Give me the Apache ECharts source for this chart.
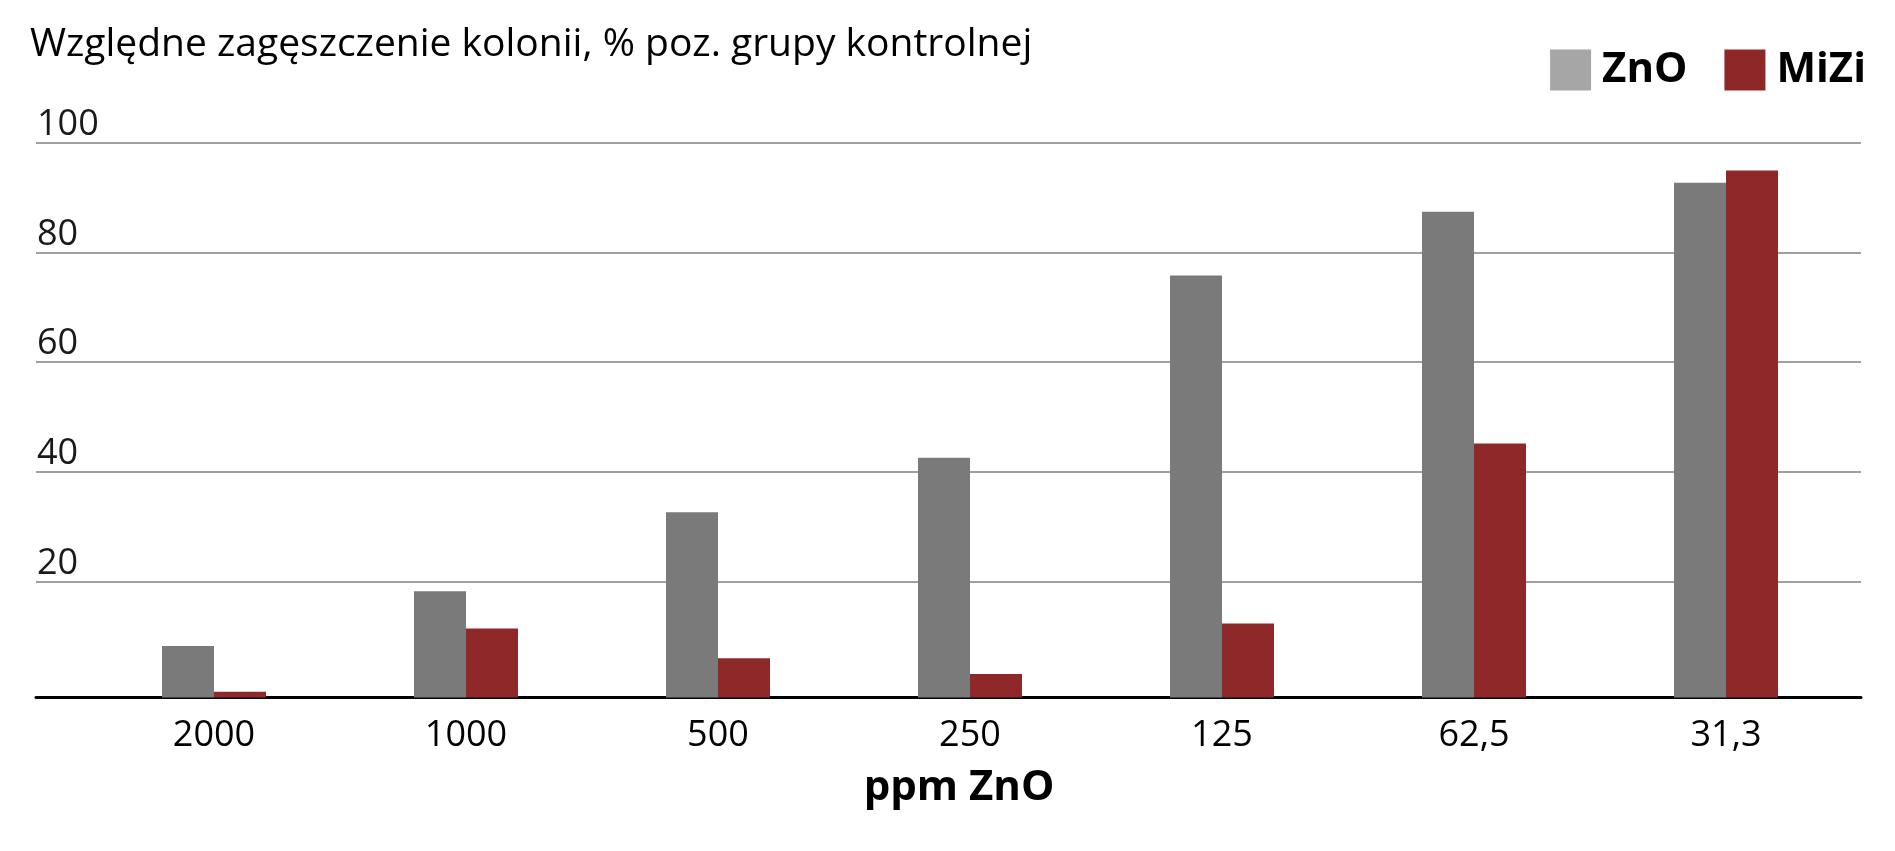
<!DOCTYPE html>
<html>
<head>
<meta charset="utf-8">
<script src="https://cdn.jsdelivr.net/npm/echarts@6/dist/echarts.min.js"></script>
<style>
  html, body { margin: 0; padding: 0; background: #fff; }
  #main { width: 1895px; height: 851px; }
</style>
</head>
<body>
<div id="main"></div>
<script>
var categories = ['2000', '1000', '500', '250', '125', '62,5', '31,3'];
var znoValues = [8.3, 18.3, 32.7, 42.6, 75.8, 87.4, 92.7];
var miziValues = [0, 11.5, 6.1, 3.2, 12.4, 45.2, 94.9];
var yTickValues = [20, 40, 60, 80, 100];
// the category axis crosses a little below 0 in the original
var yMin = -1.06;
var yMax = 100;

var font = 'Open Sans';
var myChart = echarts.init(document.getElementById('main'));

var option = {
	backgroundColor: '#fff',
	animation: false,
	title: {
		text: 'Względne zagęszczenie kolonii, % poz. grupy kontrolnej',
		left: 25,
		top: 20,
		textStyle: { fontFamily: font, fontSize: 39, fontWeight: 'normal', color: '#000' }
	},
	legend: {
		right: 24,
		top: 44,
		icon: 'rect',
		itemWidth: 41,
		itemHeight: 41,
		itemGap: 37,
		data: [
			{ name: 'ZnO', itemStyle: { color: '#a6a6a6' } },
			{ name: 'MiZi', itemStyle: { color: '#8e2727' } }
		],
		textStyle: { fontFamily: font, fontSize: 42, fontWeight: 'bold', color: '#000', padding: [18, 0, 0, 6] }
	},
	grid: [
		// gridlines, y labels and the axis line
		{ left: 36, right: 34, top: 142.6, bottom: 153.5 },
		// bars
		{ left: 88, right: 43, top: 142.6, bottom: 153.5 }
	],
	xAxis: [
		{
			gridIndex: 0,
			type: 'value',
			min: 0,
			max: 1,
			axisLine: { show: true, onZero: false, lineStyle: { color: '#000', width: 3 } },
			axisTick: { show: false },
			axisLabel: { show: false },
			splitLine: { show: false }
		},
		{
			gridIndex: 1,
			type: 'category',
			data: categories,
			axisLine: { show: false },
			axisTick: { show: false },
			axisLabel: { margin: 20, fontFamily: font, fontSize: 36, color: '#000' },
			name: 'ppm ZnO',
			nameLocation: 'middle',
			nameGap: 70,
			nameTextStyle: { fontFamily: font, fontSize: 42, fontWeight: 'bold', color: '#000', padding: [0, 22, 0, 0] }
		}
	],
	yAxis: [
		{
			gridIndex: 0,
			type: 'value',
			min: yMin,
			max: yMax,
			axisLine: { show: false },
			axisTick: { show: false, customValues: yTickValues },
			axisLabel: {
				customValues: yTickValues,
				inside: true,
				align: 'left',
				verticalAlign: 'bottom',
				margin: 1,
				fontFamily: font,
				fontSize: 36,
				color: '#1a1a1a'
			},
			splitLine: { lineStyle: { color: '#a0a0a0', width: 2 } }
		},
		{
			gridIndex: 1,
			type: 'value',
			min: yMin,
			max: yMax,
			startValue: yMin,
			show: false
		}
	],
	series: [
		{
			name: 'ZnO',
			type: 'bar',
			xAxisIndex: 1,
			yAxisIndex: 1,
			barWidth: 52,
			barGap: '0%',
			itemStyle: { color: '#7a7a7a' },
			data: znoValues
		},
		{
			name: 'MiZi',
			type: 'bar',
			xAxisIndex: 1,
			yAxisIndex: 1,
			barWidth: 52,
			barGap: '0%',
			itemStyle: { color: '#8f2929' },
			data: miziValues
		}
	]
};

myChart.setOption(option);
</script>
</body>
</html>
